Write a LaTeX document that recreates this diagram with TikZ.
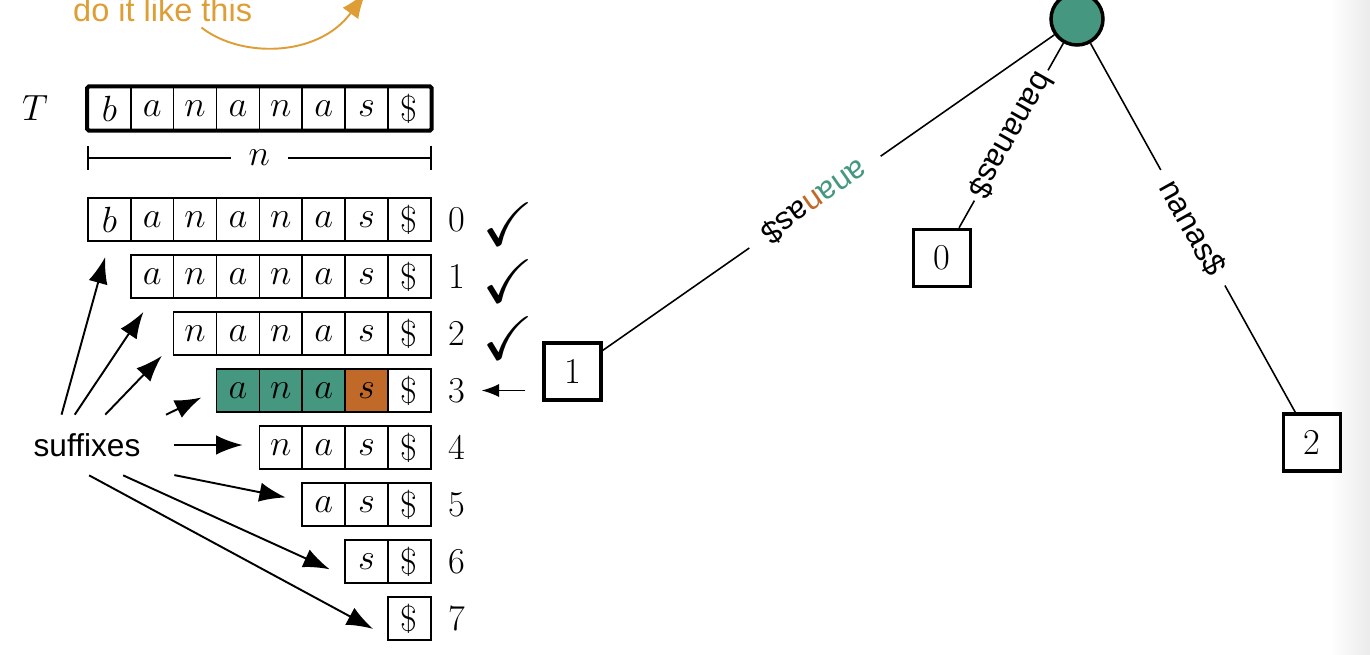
\documentclass[tikz,border=0pt]{standalone}
\usepackage{amssymb}
\usepackage{fontspec}
\newfontfamily\labelfont{Liberation Sans}
\usetikzlibrary{arrows.meta, calc}

\definecolor{suffixgreen}{HTML}{45977F}
\definecolor{suffixorange}{HTML}{C06928}
\definecolor{hintorange}{HTML}{DE9E35}

% letters of the text, by position
\newcommand{\strchar}[1]{\ifcase#1 $b$\or $a$\or $n$\or $a$\or $n$\or $a$\or $s$\or \$\fi}

\begin{document}
\begin{tikzpicture}[
    x=0.02cm, y=-0.02cm,
    cell/.style={
        rectangle,
        draw,
        line width=0.9pt,
        minimum size=0.857cm,
        inner sep=0pt,
        font=\fontsize{20.74}{24}\selectfont
    },
    hl 3-3/.style={fill=suffixgreen},
    hl 3-4/.style={fill=suffixgreen},
    hl 3-5/.style={fill=suffixgreen},
    hl 3-6/.style={fill=suffixorange},
    idx/.style={
        font=\fontsize{20.74}{24}\selectfont
    },
    okmark/.style={
        font=\fontsize{35}{40}\selectfont
    },
    leafbox/.style={
        rectangle,
        draw,
        line width=2pt,
        minimum size=1.14cm,
        font=\fontsize{20.74}{24}\selectfont
    },
    treeroot/.style={
        circle,
        draw,
        line width=2pt,
        fill=suffixgreen,
        minimum size=1.04cm
    },
    treeedge/.style={
        draw,
        line width=0.9pt
    },
    edgelabel/.style={
        midway,
        sloped,
        allow upside down,
        fill=white,
        inner xsep=8pt,
        font=\labelfont\fontsize{18}{21}\selectfont
    },
    pointer/.style={
        draw,
        line width=1.1pt,
        -{Latex[length=15pt, width=11pt]},
        shorten >=0.32cm
    },
    hint/.style={
        text=hintorange,
        font=\labelfont\fontsize{18.5}{21}\selectfont
    }
]

    \useasboundingbox (0,0) rectangle (1370,654);
    \shade [left color=white, right color=black!8] (1330,0) rectangle (1370,654);

    % --- Text T ---
    \node [idx] (tlabel) at (35,108) {$T$};
    \foreach \j in {0,...,7}
        \node [cell] (t-\j) at ({109.4+42.85*\j}, 108.5) {\strchar{\j}};
    \draw [line width=2.3pt, rounded corners=1pt] (t-0.north west) rectangle (t-7.south east);
    \draw [line width=0.9pt, {Bar[width=0.48cm]}-{Bar[width=0.48cm]}]
        ($(t-0.south west)+(0,27)$) -- ($(t-7.south east)+(0,27)$)
        node [midway, fill=white, inner xsep=10pt, idx] {$n$};

    % --- Suffixes ---
    \foreach \k in {0,...,7} {
        \foreach \j in {\k,...,7}
            \node [cell, hl \k-\j/.try] (c-\k-\j) at ({109.4+42.85*\j}, {219.5+57*\k}) {\strchar{\j}};
        \node [idx] (i-\k) at (457, {219.5+57*\k}) {\k};
    }
    \foreach \k in {0,1,2}
        \node [okmark] (ok-\k) at (508, {224+57*\k}) {$\checkmark$};

    \node [font=\labelfont\fontsize{18}{21}\selectfont, minimum width=3.48cm, minimum height=1.2cm] (sfx) at (87,445) {suffixes};

    \draw [pointer] (sfx.130) -- (c-0-0.south);
    \draw [pointer] (sfx.112) -- (c-1-1.south);
    \draw [pointer] (sfx.59) -- (c-2-2.206);
    \draw [pointer] (sfx.21) -- (c-3-3.west);
    \draw [pointer] (sfx.east) -- (sfx.east -| c-4-4.west);
    \draw [pointer] (sfx.341) -- (c-5-5.170);
    \draw [pointer] (sfx.320) -- (c-6-6.213);
    \draw [pointer] (sfx.274) -- (c-7-7.219);

    % --- Tree ---
    \node [treeroot] (root) at (1077,19) {};
    \node [leafbox] (leaf-0) at (942,258) {0};
    \node [leafbox] (leaf-1) at (572.5,371.5) {1};
    \node [leafbox] (leaf-2) at (1312,442.5) {2};

    \draw [treeedge] (root) -- node [edgelabel, pos=0.53, inner xsep=11pt]
        {\textcolor{suffixgreen}{ana}\textcolor{suffixorange}{n}as\$} (leaf-1);
    \draw [treeedge] (root) -- node [edgelabel, inner xsep=3pt] {bananas\$} (leaf-0);
    \draw [treeedge] (root) -- node [edgelabel] {nanas\$} (leaf-2);

    \draw [pointer, line width=0.9pt, -{Latex[length=10pt, width=7.5pt]}, shorten <=0.34cm, shorten >=0.2cm]
        (leaf-1.west |- i-3) -- (i-3);

    % --- Hint ---
    \node [hint, anchor=base west] (doit) at (67,21) {do it like this};
    \coordinate (doit-end) at (366,-8);
    \draw [hintorange, line width=1.1pt, -{Latex[length=15pt, width=11pt]}]
        (doit.-25) .. controls (240,58) and (318,58) .. (doit-end);

\end{tikzpicture}
\end{document}
